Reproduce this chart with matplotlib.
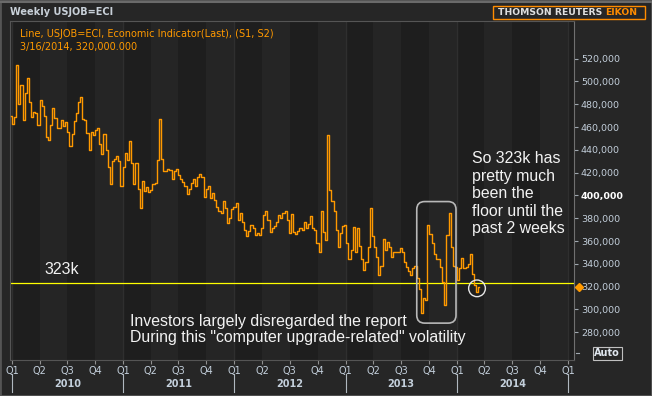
import matplotlib
matplotlib.use('Agg')
import matplotlib.pyplot as plt
import matplotlib.dates as mdates
import matplotlib.patches as mpatches
from matplotlib.lines import Line2D
from matplotlib.transforms import blended_transform_factory
import pandas as pd

# weekly initial jobless claims (thousands)
claims_k = [470, 463, 469, 514, 480, 497, 466, 490, 503, 482,
            469, 473, 472, 462, 484, 478, 470, 451, 449, 462,
            477, 468, 459, 459, 466, 461, 464, 456, 443, 454,
            465, 472, 482, 486, 467, 466, 455, 440, 456, 453,
            457, 459, 445, 436, 454, 440, 425, 410, 430, 432,
            435, 430, 408, 425, 437, 431, 448, 428, 410, 428,
            406, 389, 413, 404, 407, 403, 405, 410, 411, 431,
            467, 432, 421, 421, 423, 422, 414, 421, 423, 418,
            414, 412, 408, 401, 406, 411, 414, 408, 416, 419,
            416, 399, 406, 408, 398, 402, 396, 390, 386, 385,
            395, 389, 376, 380, 388, 390, 393, 378, 385, 377,
            370, 364, 369, 374, 371, 365, 367, 365, 371, 383,
            386, 378, 368, 371, 373, 377, 383, 380, 385, 386,
            378, 367, 384, 368, 366, 369, 371, 370, 377, 371,
            375, 382, 371, 370, 358, 350, 386, 368, 361, 453,
            405, 395, 386, 370, 355, 367, 373, 374, 358, 344,
            352, 372, 350, 371, 356, 344, 335, 342, 355, 389,
            364, 355, 346, 330, 338, 362, 352, 359, 355, 346,
            350, 350, 350, 354, 350, 342, 337, 334, 330, 336,
            338, 328, 318, 297, 310, 308, 374, 366, 358, 349,
            344, 344, 337, 324, 304, 365, 385, 355, 338, 337,
            326, 336, 345, 336, 337, 340, 349, 331, 321, 315, 320]
claims = [v * 1000 for v in claims_k]
dates = pd.date_range('2009-12-27', periods=len(claims), freq='7D')

y_ticks = list(range(280000, 520001, 20000))
quarter_starts = pd.date_range('2010-01-01', '2015-01-01', freq='QS')
quarter_labels = ['Q%d' % q.quarter for q in quarter_starts]
years = [2010, 2011, 2012, 2013, 2014]
floor_level = 323000
last_text = '3/16/2014, 320,000.000'

W, H = 652, 396
BG = '#262626'
ORANGE = '#ff9900'
LABEL = '#c3cfdb'

fig = plt.figure(figsize=(W / 100, H / 100), dpi=100, facecolor=BG)
ax = fig.add_axes([10 / W, 1 - 360 / H, 564 / W, 339 / H])
ax.set_facecolor('#1e1e1e')

x0 = mdates.date2num(pd.Timestamp('2010-01-01')) - 7.6
x1 = mdates.date2num(pd.Timestamp('2015-01-01')) + 19.7
ax.set_xlim(x0, x1)
ax.set_ylim(255650, 552970)

# alternating quarter bands + faint year lines
bands = pd.date_range('2009-10-01', '2015-04-01', freq='QS')
for a, b in zip(bands[:-1], bands[1:]):
    if a.quarter in (2, 4):
        ax.axvspan(a, b, color='#252525', lw=0, zorder=0)
for y in range(2010, 2016):
    ax.axvline(pd.Timestamp(f'{y}-01-01'), color='#2f2f2f', lw=1, zorder=0)

ax.plot(dates, claims, color=ORANGE, lw=1.0, drawstyle='steps-mid', zorder=3)
ax.axhline(floor_level, color='#ffff00', lw=0.9, zorder=2)

# axes styling
for s in ax.spines.values():
    s.set_color('#555555')
ax.spines['right'].set_color('#707070')
ax.yaxis.tick_right()
ax.set_yticks(y_ticks)
ax.set_yticklabels([f'{v:,}' for v in y_ticks])
ax.tick_params(axis='y', length=3, width=0.8, color='#a0a8b0', pad=2,
               labelsize=6.8, labelcolor=LABEL)
for lab, v in zip(ax.get_yticklabels(), y_ticks):
    if v == 400000:
        lab.set_fontweight('bold')
        lab.set_color('white')

ax.set_xticks(quarter_starts)
ax.set_xticklabels(quarter_labels)
ax.tick_params(axis='x', length=3, width=0.8, color='#909090', pad=1.5,
               labelsize=7, labelcolor=LABEL)

# year labels + separators under the quarter labels
bt = blended_transform_factory(ax.transData, ax.transAxes)
for y in years:
    mid = pd.Timestamp(f'{y}-07-02')
    ax.text(mid, -0.072, str(y), transform=bt, ha='center', va='center',
            fontsize=7, fontweight='bold', color=LABEL)
for y in range(2010, 2016):
    ax.plot([pd.Timestamp(f'{y}-01-01')] * 2, [-0.04, -0.094], transform=bt,
            color='#b0b8c0', lw=0.8, clip_on=False)

# last value marker on the axis + Auto button
ax.plot([1.008], [claims[-1]], marker='D', ms=4.5, color=ORANGE,
        transform=blended_transform_factory(ax.transAxes, ax.transData),
        clip_on=False, zorder=5)
ax.text(1.036, 0.02, 'Auto', transform=ax.transAxes, ha='left', va='center',
        fontsize=7, fontweight='bold', color='#dfe6ee',
        bbox=dict(boxstyle='square,pad=0.15', fc='none', ec='#c0c0c0', lw=0.8))
ax.plot([1.004, 1.009], [0.02, 0.02], transform=ax.transAxes,
        color='#a0a8b0', lw=0.8, clip_on=False)

# header texts
fig.text(10 / W, 1 - 12 / H, 'Weekly USJOB=ECI', fontsize=7, fontweight='bold',
         color='#c8d0d8', va='center')
fig.text(20 / W, 1 - 34 / H, 'Line, USJOB=ECI, Economic Indicator(Last), (S1, S2)',
         fontsize=7, color=ORANGE, va='center')
fig.text(20 / W, 1 - 47 / H, last_text, fontsize=7, color=ORANGE, va='center')

fig.add_artist(mpatches.Rectangle((492.5 / W, 1 - 19 / H), 152.5 / W, 13.5 / H,
                                  transform=fig.transFigure, fill=False,
                                  ec='#ff8c00', lw=1))
fig.text(602 / W, 1 - 12.2 / H, 'THOMSON REUTERS', fontsize=6.7, fontweight='bold',
         color='#e0e0e0', ha='right', va='center')
fig.text(605 / W, 1 - 12.2 / H, 'EIKON', fontsize=6.7, fontweight='bold',
         color='#ff8c00', ha='left', va='center')
fig.add_artist(Line2D([0, 1], [1 - 1.5 / H] * 2, transform=fig.transFigure,
                      color='#6a6a6a', lw=1.5))
fig.add_artist(mpatches.Rectangle((0, 0), 1, 1, transform=fig.transFigure,
                                  fill=False, ec='#555555', lw=2))

# annotations
ann = dict(family='Liberation Sans', fontsize=11.4, color='#f2f2f2')
ax.text(pd.Timestamp('2010-04-15'), 335000, '323k', va='center', **ann)
ax.text(pd.Timestamp('2011-01-22'), 282500,
        'Investors largely disregarded the report\n'
        'During this "computer upgrade-related" volatility',
        va='center', linespacing=1.1, **ann)
ax.text(pd.Timestamp('2014-02-18'), 401500,
        'So 323k has\npretty much\nbeen the\nfloor until the\npast 2 weeks',
        va='center', linespacing=1.2, **ann)

# rounded box around the volatile stretch, circle on the last reading
bx0 = mdates.date2num(pd.Timestamp('2013-08-22'))
bx1 = mdates.date2num(pd.Timestamp('2013-12-29'))
box = mpatches.FancyBboxPatch((bx0, 288000), bx1 - bx0, 394600 - 288000,
                              boxstyle='round,pad=0,rounding_size=26',
                              mutation_aspect=267, fc='none', ec='#b8b8b8',
                              lw=1.2, zorder=4)
ax.add_patch(box)
ax.add_patch(mpatches.Ellipse((mdates.date2num(dates[-1]) - 8, 318500), 55, 14600,
                              fc='none', ec='#e6e6e6', lw=1, zorder=4))

fig.savefig('out.png', dpi=100, facecolor=BG)
